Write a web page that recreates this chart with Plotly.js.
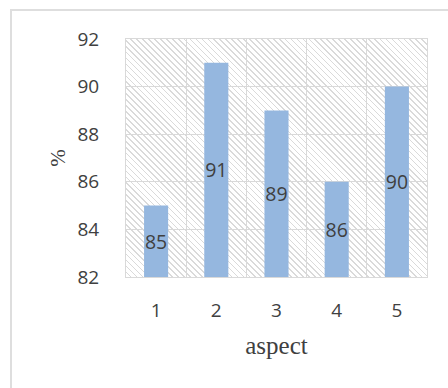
<!DOCTYPE html>
<html>
<head>
<meta charset="utf-8">
<script src="https://cdn.plot.ly/plotly-3.0.1.min.js"></script>
<style>
  html, body { margin: 0; padding: 0; background: #ffffff; }
  #wrap { position: relative; width: 448px; height: 388px; overflow: hidden; background: #ffffff; }
  #frame { position: absolute; left: 10px; top: 9px; width: 460px; height: 400px;
           border-left: 2px solid #dedede; border-top: 2px solid #dedede; }
  #hatch { position: absolute; left: 126px; top: 39px; width: 301px; height: 238px;
           background: repeating-linear-gradient(45deg, #ffffff 0px, #ffffff 3px, #dadada 3px, #dadada 4.2px); }
  #chart { position: absolute; left: 0; top: 0; width: 448px; height: 388px; }
</style>
</head>
<body>
<div id="wrap">
  <div id="frame"></div>
  <div id="hatch"></div>
  <div id="chart"></div>
</div>
<script>
const categories = ["1", "2", "3", "4", "5"];
const values = [85, 91, 89, 86, 90];
const yTicks = [82, 84, 86, 88, 90, 92];
const yMin = 82;

const trace = {
  type: "bar",
  x: categories,
  y: values.map(v => v - yMin),
  base: yMin,
  text: values.map(String),
  textposition: "inside",
  insidetextanchor: "middle",
  constraintext: "none",
  textangle: 0,
  textfont: { family: "'Open Sans', Lato, sans-serif", size: 19.5, color: "#404040" },
  marker: { color: "#95b7df", line: { width: 0 } },
  hoverinfo: "none",
  cliponaxis: false
};

const layout = {
  width: 448,
  height: 388,
  margin: { l: 126, r: 21, t: 39, b: 111 },
  paper_bgcolor: "rgba(0,0,0,0)",
  plot_bgcolor: "rgba(0,0,0,0)",
  bargap: 0.6,
  showlegend: false,
  font: { family: "'Open Sans', Lato, sans-serif", color: "#404040" },
  xaxis: {
    type: "category",
    tickson: "boundaries",
    showgrid: true,
    gridcolor: "#d9d9d9",
    gridwidth: 1,
    showline: true,
    linecolor: "#d9d9d9",
    linewidth: 1,
    mirror: true,
    ticks: "",
    ticklabelstandoff: 16,
    tickfont: { family: "'Open Sans', Lato, sans-serif", size: 19, color: "#404040" },
    title: { text: "aspect", font: { family: "'Liberation Serif', 'Times New Roman', serif", size: 25, color: "#404040" }, standoff: 14 },
    fixedrange: true
  },
  yaxis: {
    range: [82, 92],
    tickvals: yTicks,
    ticktext: yTicks.map(String),
    showgrid: true,
    gridcolor: "#d9d9d9",
    gridwidth: 1,
    zeroline: false,
    showline: true,
    linecolor: "#d9d9d9",
    linewidth: 1,
    mirror: true,
    ticks: "",
    ticklabelstandoff: 22,
    tickfont: { family: "'Open Sans', Lato, sans-serif", size: 19, color: "#404040" },
    title: { text: "%", font: { family: "'Liberation Serif', 'Times New Roman', serif", size: 21, color: "#404040" }, standoff: 6 },
    fixedrange: true
  }
};

Plotly.newPlot("chart", [trace], layout, { displayModeBar: false, staticPlot: true });
</script>
</body>
</html>
